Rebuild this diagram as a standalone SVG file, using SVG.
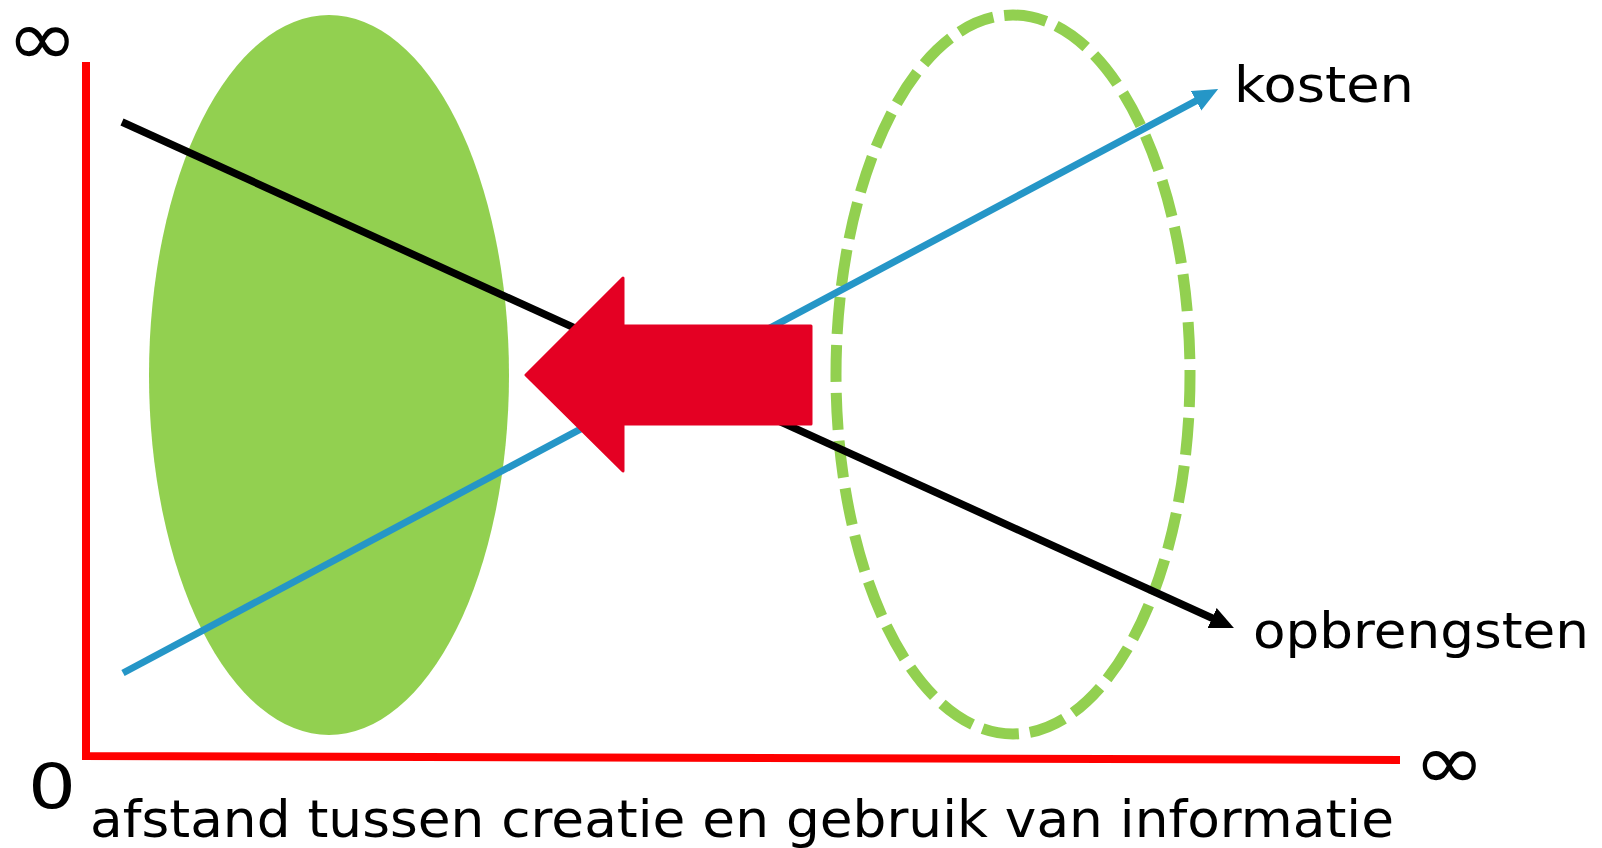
<svg xmlns="http://www.w3.org/2000/svg" width="1602" height="848" viewBox="0 0 1602 848">
<style>
.lbl{font-family:"DejaVu Sans","Liberation Sans",sans-serif;fill:#000}
.axis{stroke:#FF0000;stroke-width:8;fill:none}
</style>
<defs>
<marker id="headBlue" markerUnits="userSpaceOnUse" markerWidth="26" markerHeight="24" viewBox="0 0 26 24" refX="1" refY="12" orient="auto">
<path d="M0,1 L25,12 L0,23 z" fill="#2596C7"/>
</marker>
<marker id="headBlack" markerUnits="userSpaceOnUse" markerWidth="26" markerHeight="24" viewBox="0 0 26 24" refX="1" refY="12" orient="auto">
<path d="M0,1 L24,12 L0,23 z" fill="#000"/>
</marker>
</defs>
<rect width="1602" height="848" fill="#fff"/>
<g id="axes">
<path class="axis" d="M86,62 L86,756 L1400,760"/>
</g>
<g id="zone-near">
<ellipse cx="329" cy="375" rx="180" ry="360" fill="#92D050"/>
</g>
<g id="zone-far">
<path d="M1013,15 A177,359.5 0 0 1 1013,734 A177,359.5 0 0 1 1013,15 Z" fill="none" stroke="#92D050" stroke-width="11" stroke-dasharray="37 11" stroke-dashoffset="3"/>
</g>
<g id="connectors">
<line x1="122" y1="122" x2="1213" y2="618.5" stroke="#000" stroke-width="7.5" marker-end="url(#headBlack)"/>
<line x1="123" y1="673" x2="1197" y2="100.3" stroke="#2596C7" stroke-width="7" marker-end="url(#headBlue)"/>
</g>
<g id="shift-arrow">
<polygon points="526,375 623,278 623,326 811,326 811,424 623,424 623,471" fill="#E40023" stroke="#E40023" stroke-width="3" stroke-linejoin="round"/>
</g>
<g id="labels">
<text class="lbl" x="0" y="0" font-size="78" transform="translate(6.4,64.6) scale(1.1,1)">∞</text>
<text class="lbl" x="0" y="0" font-size="78" transform="translate(1413.4,788.6) scale(1.1,1)">∞</text>
<text class="lbl" x="28" y="808" font-size="62" textLength="48" lengthAdjust="spacingAndGlyphs">0</text>
<text class="lbl" x="1234" y="102" font-size="50" textLength="180" lengthAdjust="spacingAndGlyphs">kosten</text>
<text class="lbl" x="1253" y="648" font-size="50" textLength="336" lengthAdjust="spacingAndGlyphs">opbrengsten</text>
<text class="lbl" x="90" y="837" font-size="52" textLength="1304" lengthAdjust="spacingAndGlyphs">afstand tussen creatie en gebruik van informatie</text>
</g>
</svg>
